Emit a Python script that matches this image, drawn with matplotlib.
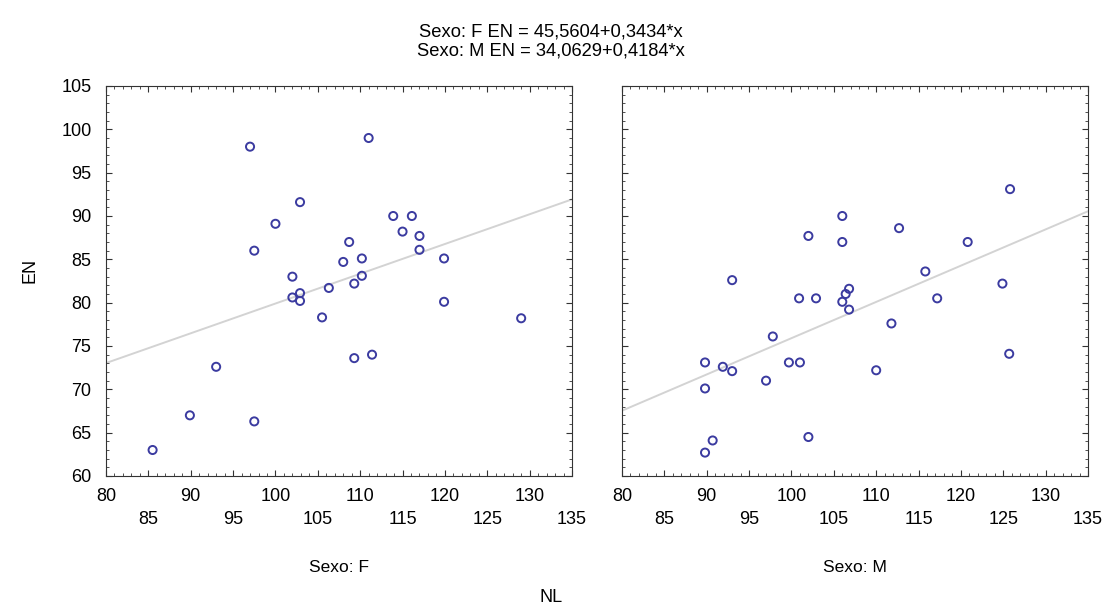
import matplotlib
matplotlib.use("Agg")
import matplotlib.pyplot as plt
import numpy as np
from matplotlib.ticker import MultipleLocator

# ---- data ----
f_nl = [85.5, 89.9, 93.0, 97.0, 97.5, 97.5, 100.0, 102.0, 102.0, 102.9, 102.9, 102.9,
        105.5, 106.3, 108.0, 108.7, 109.3, 109.3, 110.2, 110.2, 111.0, 111.4, 113.9,
        115.0, 116.1, 117.0, 117.0, 119.9, 119.9, 129.0]
f_en = [63.0, 67.0, 72.6, 98.0, 86.0, 66.3, 89.1, 83.0, 80.6, 81.1, 80.2, 91.6,
        78.3, 81.7, 84.7, 87.0, 82.2, 73.6, 85.1, 83.1, 99.0, 74.0, 90.0,
        88.2, 90.0, 87.7, 86.1, 85.1, 80.1, 78.2]
m_nl = [106.0, 102.0, 106.0, 93.0, 100.9, 102.9, 106.8, 106.4, 106.0, 106.8,
        125.8, 112.7, 120.8, 115.8, 124.9, 117.2, 111.8, 110.0, 125.7, 97.8,
        89.8, 91.9, 93.0, 97.0, 99.7, 101.0, 89.8, 90.7, 89.8, 102.0]
m_en = [90.0, 87.7, 87.0, 82.6, 80.5, 80.5, 81.6, 81.0, 80.1, 79.2,
        93.1, 88.6, 87.0, 83.6, 82.2, 80.5, 77.6, 72.2, 74.1, 76.1,
        73.1, 72.6, 72.1, 71.0, 73.1, 73.1, 70.1, 64.1, 62.7, 64.5]
f_coef = (45.5604, 0.3434)
m_coef = (34.0629, 0.4184)
x_ticks = [80, 85, 90, 95, 100, 105, 110, 115, 120, 125, 130, 135]
y_ticks = [60, 65, 70, 75, 80, 85, 90, 95, 100, 105]
title_lines = ["Sexo: F EN = 45,5604+0,3434*x", "Sexo: M EN = 34,0629+0,4184*x"]
panel_labels = ["Sexo: F", "Sexo: M"]

plt.rcParams['font.family'] = ['Liberation Sans', 'DejaVu Sans']

fig = plt.figure(figsize=(11.03, 6.09), dpi=100)
W, H = 1103, 609
def rect(x0, y0, x1, y1):
    return [x0 / W, 1 - y1 / H, (x1 - x0) / W, (y1 - y0) / H]

axL = fig.add_axes(rect(106, 86, 572, 476))
axR = fig.add_axes(rect(622, 86, 1088, 476))

xlbls = [str(t) if i % 2 == 0 else "\n" + str(t) for i, t in enumerate(x_ticks)]
mc = '#3b3ba0'
for ax, xs, ys, coef in [(axL, f_nl, f_en, f_coef), (axR, m_nl, m_en, m_coef)]:
    xx = np.array([80, 135])
    ax.plot(xx, coef[0] + coef[1] * xx, color='#d3d3d3', lw=1.4, zorder=1)
    ax.scatter(xs, ys, s=34, facecolors='none', edgecolors=mc, linewidths=1.4, zorder=2)
    ax.set_xlim(80, 135)
    ax.set_ylim(60, 105)
    ax.set_xticks(x_ticks)
    ax.set_xticklabels(xlbls, fontsize=13, linespacing=1.45)
    ax.set_yticks(y_ticks)
    ax.xaxis.set_minor_locator(MultipleLocator(1))
    ax.yaxis.set_minor_locator(MultipleLocator(1))
    ax.tick_params(which='both', direction='in', top=True, right=True, colors='#333333')
    ax.tick_params(which='major', length=4, width=0.8)
    ax.tick_params(which='minor', length=2, width=0.6)
    ax.tick_params(axis='x', pad=8.5, labelcolor='black')
    for sp in ax.spines.values():
        sp.set_color('#333333')
        sp.set_linewidth(0.8)

axL.tick_params(axis='y', labelsize=13, labelcolor='black', pad=10.5)
axR.tick_params(axis='y', labelleft=False)

fig.text(551 / W, 1 - 32 / H, title_lines[0], ha='center', va='center', fontsize=13.2)
fig.text(551 / W, 1 - 51 / H, title_lines[1], ha='center', va='center', fontsize=13.2)
fig.text(339 / W, 1 - 567 / H, panel_labels[0], ha='center', va='center', fontsize=12.5)
fig.text(855 / W, 1 - 567 / H, panel_labels[1], ha='center', va='center', fontsize=12.5)
fig.text(551 / W, 1 - 598 / H, "NL", ha='center', va='center', fontsize=13)
fig.text(30 / W, 1 - 270 / H, "EN", ha='center', va='center', fontsize=13, rotation=90)

fig.savefig("out.png", dpi=100)
